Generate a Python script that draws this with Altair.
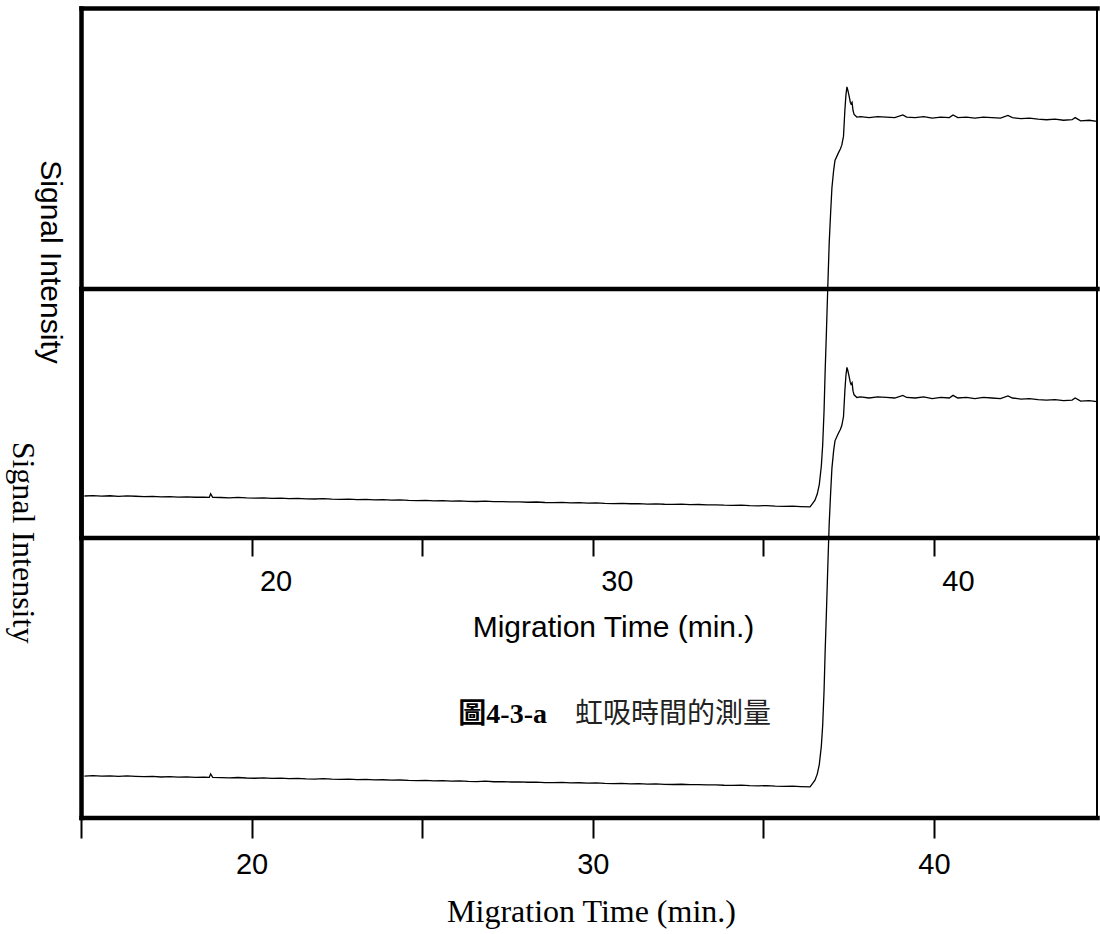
import altair as alt
import pandas as pd

# ---------------- data ----------------
base_t = [15.10, 15.35, 15.60, 15.85, 16.10, 16.35, 16.60, 16.85, 17.10, 17.35,
          17.60, 17.85, 18.10, 18.35, 18.60, 18.76, 18.80, 18.86, 19.10, 19.35,
          19.60, 19.85, 20.10, 20.35, 20.60, 20.85, 21.10, 21.35, 21.60, 21.85,
          22.10, 22.35, 22.60, 22.85, 23.10, 23.35, 23.60, 23.85, 24.10, 24.35,
          24.60, 24.85, 25.10, 25.35, 25.60, 25.85, 26.10, 26.35, 26.60, 26.85,
          27.10, 27.35, 27.60, 27.85, 28.10, 28.35, 28.60, 28.85, 29.10, 29.35,
          29.60, 29.85, 30.10, 30.35, 30.60, 30.85, 31.10, 31.35, 31.60, 31.85,
          32.10, 32.35, 32.60, 32.85, 33.10, 33.35, 33.60, 33.85, 34.10, 34.35,
          34.60, 34.85, 35.10, 35.35, 35.60, 35.85, 36.10, 36.37]
base_v = [7.84, 7.92, 7.81, 7.88, 7.76, 7.85, 7.79, 7.71, 7.77, 7.66,
          7.72, 7.64, 7.69, 7.60, 7.63, 7.58, 8.25, 7.60, 7.55, 7.49,
          7.56, 7.47, 7.42, 7.48, 7.39, 7.43, 7.34, 7.38, 7.30, 7.27,
          7.33, 7.24, 7.20, 7.26, 7.15, 7.19, 7.10, 7.14, 7.05, 7.09,
          7.00, 6.96, 7.02, 6.93, 6.97, 6.88, 6.92, 6.84, 6.80, 6.86,
          6.76, 6.79, 6.71, 6.74, 6.66, 6.70, 6.61, 6.58, 6.63, 6.54,
          6.57, 6.49, 6.53, 6.45, 6.41, 6.46, 6.37, 6.40, 6.32, 6.36,
          6.28, 6.24, 6.29, 6.20, 6.23, 6.15, 6.18, 6.10, 6.06, 6.11,
          6.02, 5.98, 6.03, 5.94, 5.89, 5.93, 5.84, 5.78]

rise_t = [36.51, 36.58, 36.64, 36.70, 36.74, 36.78, 36.81, 36.85, 36.89, 36.93,
          36.97, 37.01, 37.06, 37.10, 37.19, 37.26, 37.30, 37.35, 37.39, 37.42,
          37.45, 37.48, 37.51, 37.55, 37.57, 37.60, 37.63, 37.66, 37.74]
rise_v = [7.0, 8.2, 10.0, 13.5, 17.5, 24.0, 31.0, 39.0, 47.5, 55.5,
          61.0, 66.0, 69.3, 71.2, 72.5, 73.4, 74.1, 75.8, 80.7, 83.5,
          85.1, 84.4, 83.5, 82.2, 81.9, 82.2, 80.6, 79.9, 79.4]

flat_t = [37.85, 38.10, 38.35, 38.60, 38.85, 39.09, 39.20, 39.45, 39.70, 39.95,
          40.20, 40.45, 40.56, 40.70, 40.95, 41.20, 41.45, 41.70, 41.95, 42.17,
          42.30, 42.55, 42.80, 43.05, 43.30, 43.55, 43.80, 44.05, 44.14, 44.30,
          44.55, 44.78]
flat_v = [79.5, 79.3, 79.5, 79.4, 79.3, 79.8, 79.4, 79.3, 79.5, 79.2,
          79.4, 79.3, 79.8, 79.3, 79.4, 79.2, 79.4, 79.3, 79.2, 79.7,
          79.3, 79.1, 79.2, 79.0, 78.9, 79.0, 78.8, 78.9, 79.3, 78.7,
          78.8, 78.6]

x_ticks = [15, 20, 25, 30, 35, 40]
x_domain = [15, 44.78]
y_domain = [0, 100]

x_title = "Migration Time (min.)"
y_title = "Signal Intensity"
caption_bold = ["圖4-3-a"]
caption_text = ["虹吸時間的測量"]

df = pd.DataFrame({"time": base_t + rise_t + flat_t,
                   "signal": base_v + rise_v + flat_v})

# ---------------- layout / style ----------------
W, H = 1016, 809.5
RANGE_B = [529.5, 0]        # upper (sans) figure
RANGE_A = [809.5, 280.5]    # lower (serif) figure
SANS = "Liberation Sans"
SERIF = "Liberation Serif"
CJK_BOLD = "Liberation Serif, Noto Sans CJK TC"
CJK = "Noto Sans CJK TC"
DW = 4.5
label_expr = "datum.value % 10 === 0 ? datum.label : ''"

xs = alt.Scale(domain=x_domain, nice=False, zero=False)
base = alt.Chart(df)

common_domain = dict(domainWidth=DW, domainColor="black", domainCap="square", grid=False)

# lower (serif) figure
line_a = base.mark_line(color="black", strokeWidth=1.3).encode(
    x=alt.X("time:Q", scale=xs, axis=alt.Axis(
        orient="bottom", values=x_ticks, labelExpr=label_expr,
        tickSize=20.5, tickWidth=2, tickColor="black",
        labelFont=SANS, labelFontSize=29, labelColor="black", labelPadding=12.5,
        labelFlush=False, labelOverlap=False,
        title=x_title, titleFont=SERIF, titleFontSize=32, titleFontWeight="normal",
        titleColor="black", titleX=510, titleY=103.5, titleBaseline="alphabetic",
        titleAlign="center", **common_domain)),
    y=alt.Y("signal:Q", scale=alt.Scale(domain=y_domain, range=RANGE_A, nice=False, zero=False),
            axis=alt.Axis(orient="left", ticks=False, labels=False,
                          title=y_title, titleFont=SERIF, titleFontSize=32,
                          titleFontWeight="normal", titleColor="black", titleAngle=90,
                          titleX=-69, titleY=534, titleAlign="center",
                          titleBaseline="alphabetic", **common_domain)),
)

top_a = base.mark_line(strokeOpacity=0).encode(
    x=alt.X("time:Q", scale=xs, title=None, axis=alt.Axis(
        orient="top", offset=-280.5, ticks=False, labels=False, **common_domain)),
    y=alt.Y("signal:Q", scale=alt.Scale(domain=y_domain, range=RANGE_A, nice=False, zero=False), axis=None),
)

# upper (sans) figure
line_b = base.mark_line(color="black", strokeWidth=1.3).encode(
    x=alt.X("time:Q", scale=xs, axis=alt.Axis(
        orient="bottom", offset=-280, values=x_ticks, labelExpr=label_expr,
        tickSize=18.5, tickWidth=2, tickColor="black",
        labelFont=SANS, labelFontSize=29, labelColor="black", labelPadding=11.5,
        labelOffset=24, labelFlush=False, labelOverlap=False,
        title=x_title, titleFont=SANS, titleFontSize=30, titleFontWeight="normal",
        titleColor="black", titleX=532, titleY=98.5, titleBaseline="alphabetic",
        titleAlign="center", **common_domain)),
    y=alt.Y("signal:Q", scale=alt.Scale(domain=y_domain, range=RANGE_B, nice=False, zero=False),
            title=None,
            axis=alt.Axis(orient="left", ticks=False, labels=False, **common_domain)),
)

top_b = base.mark_line(strokeOpacity=0).encode(
    x=alt.X("time:Q", scale=xs, title=None, axis=alt.Axis(
        orient="top", ticks=False, labels=False, **common_domain)),
    y=alt.Y("signal:Q", scale=alt.Scale(domain=y_domain, range=RANGE_B, nice=False, zero=False), axis=None),
)

# y-axis title of the upper (sans) figure
ytitle_b = alt.Chart(pd.DataFrame({"label": [y_title]})).mark_text(
    font=SANS, fontSize=30, angle=90, align="center", baseline="alphabetic",
    color="black").encode(text="label:N", x=alt.value(-40.5), y=alt.value(254))

cap1 = alt.Chart(pd.DataFrame({"label": caption_bold})).mark_text(
    font=CJK_BOLD, fontSize=28, fontWeight="bold", align="right", baseline="middle",
    color="black").encode(text="label:N", x=alt.value(466), y=alt.value(707))
cap2 = alt.Chart(pd.DataFrame({"label": caption_text})).mark_text(
    font=CJK, fontSize=28, align="left", baseline="middle",
    color="#222222").encode(text="label:N", x=alt.value(494), y=alt.value(707))

chart = alt.layer(line_a, top_a, line_b, top_b, ytitle_b, cap1, cap2).resolve_scale(
    y="independent"
).resolve_axis(
    x="independent", y="independent"
).properties(
    width=W, height=H,
    padding={"left": 81, "top": 8, "right": 3, "bottom": 116.5},
    autosize=alt.AutoSizeParams(type="none"),
    background="white",
).configure_view(stroke="black", strokeWidth=2)

chart.save("out.html", embed_options={"renderer": "svg", "actions": False})
